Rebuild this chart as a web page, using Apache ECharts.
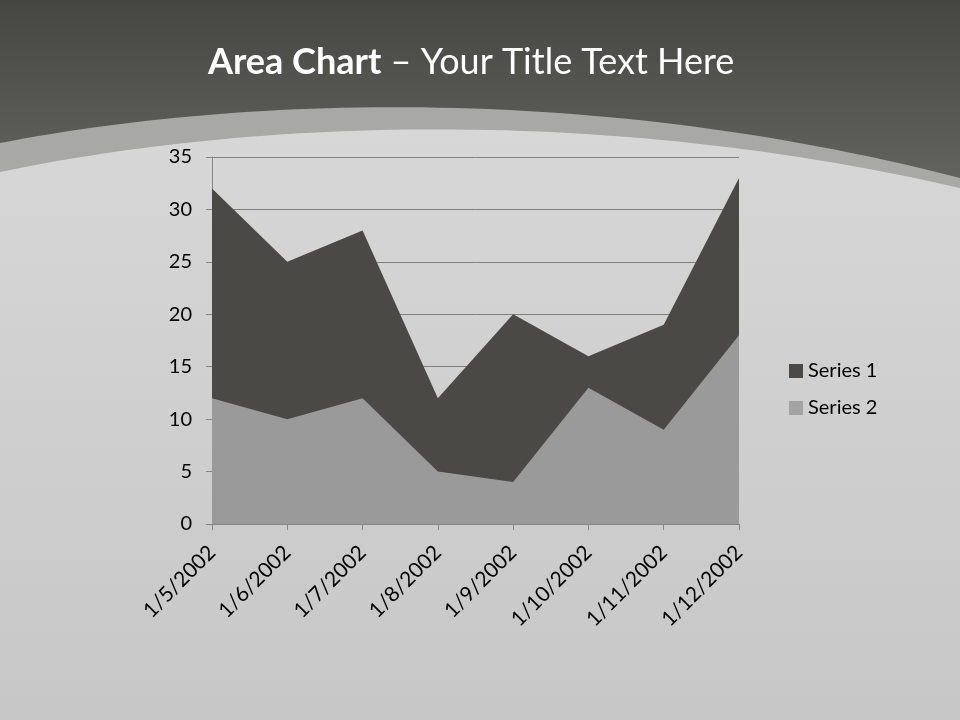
<!DOCTYPE html>
<html>
<head>
<meta charset="utf-8">
<title>Area Chart</title>
<script src="https://cdn.jsdelivr.net/npm/echarts@6/dist/echarts.min.js"></script>
<style>
  html, body { margin: 0; padding: 0; }
  #chart { width: 960px; height: 720px; }
</style>
</head>
<body>
<div id="chart"></div>
<script>
// chart data
var categories = ['1/5/2002', '1/6/2002', '1/7/2002', '1/8/2002', '1/9/2002', '1/10/2002', '1/11/2002', '1/12/2002'];
var series1 = [32, 25, 28, 12, 20, 16, 19, 33];
var series2 = [12, 10, 12, 5, 4, 13, 9, 18];
var seriesNames = ['Series 1', 'Series 2'];

var FONT = 'Lato, "Open Sans", sans-serif';

// slide decoration: area under a cubic curve, as polygon points
function curveShape(p0, p1, p2, p3) {
    var pts = [];
    for (var i = 0; i <= 60; i++) {
        var t = i / 60, u = 1 - t;
        pts.push([
            u * u * u * p0[0] + 3 * u * u * t * p1[0] + 3 * u * t * t * p2[0] + t * t * t * p3[0],
            u * u * u * p0[1] + 3 * u * u * t * p1[1] + 3 * u * t * t * p2[1] + t * t * t * p3[1]
        ]);
    }
    pts.push([960, 720], [0, 720]);
    return pts;
}

var chart = echarts.init(document.getElementById('chart'));

var option = {
    animation: false,
    backgroundColor: 'transparent',
    graphic: [
        // dark header
        {
            type: 'rect', z: -10, silent: true,
            shape: {x: 0, y: 0, width: 960, height: 720},
            style: {
                fill: new echarts.graphic.LinearGradient(0, 0, 0, 1, [
                    {offset: 0, color: '#464642'},
                    {offset: 0.25, color: '#63635e'},
                    {offset: 1, color: '#63635e'}
                ])
            }
        },
        // lighter band
        {
            type: 'polygon', z: -9, silent: true,
            shape: {points: curveShape([0, 143], [250, 95], [600, 85], [960, 178])},
            style: {fill: '#a8a8a6'}
        },
        // light body
        {
            type: 'polygon', z: -8, silent: true,
            shape: {points: curveShape([0, 172], [250, 120], [600, 105], [960, 188])},
            style: {
                fill: new echarts.graphic.LinearGradient(0, 0, 0, 1, [
                    {offset: 0, color: '#d7d7d7'},
                    {offset: 1, color: '#c7c7c7'}
                ])
            }
        },
        // title
        {
            type: 'text', z: 10, silent: true,
            left: 208, top: 44,
            style: {
                text: '{b|Area Chart} – Your Title Text Here',
                fill: '#ffffff',
                font: '36px ' + FONT,
                rich: {
                    b: {fontWeight: 'bold', fontSize: 36, fontFamily: FONT, fill: '#ffffff'}
                }
            }
        }
    ],
    legend: {
        orient: 'vertical',
        left: 784,
        top: 356,
        itemWidth: 14,
        itemHeight: 14,
        itemGap: 17,
        icon: 'rect',
        textStyle: {fontSize: 20, color: '#000', fontFamily: FONT},
        data: seriesNames
    },
    grid: {left: 212, right: 221, top: 157, bottom: 196, containLabel: false},
    xAxis: {
        type: 'category',
        boundaryGap: false,
        data: categories,
        axisLine: {lineStyle: {color: '#868686'}},
        axisTick: {show: true, length: 6, lineStyle: {color: '#868686'}},
        axisLabel: {rotate: 45, fontSize: 21, color: '#000', fontFamily: FONT, margin: 25, interval: 0}
    },
    yAxis: {
        type: 'value',
        min: 0,
        max: 35,
        interval: 5,
        axisLine: {show: true, lineStyle: {color: '#868686'}},
        axisTick: {show: true, length: 6, lineStyle: {color: '#868686'}},
        axisLabel: {fontSize: 20, color: '#000', fontFamily: FONT, margin: 20},
        splitLine: {lineStyle: {color: '#7f7f7f', width: 1}}
    },
    series: [
        {
            name: seriesNames[0],
            type: 'line',
            data: series1,
            symbol: 'none',
            lineStyle: {width: 0},
            itemStyle: {color: '#4a4945'},
            areaStyle: {color: '#4a4945', opacity: 1}
        },
        {
            name: seriesNames[1],
            type: 'line',
            data: series2,
            symbol: 'none',
            lineStyle: {width: 0},
            itemStyle: {color: '#a3a3a3'},
            areaStyle: {color: '#9a9a9a', opacity: 1}
        }
    ]
};

chart.setOption(option);
</script>
</body>
</html>
